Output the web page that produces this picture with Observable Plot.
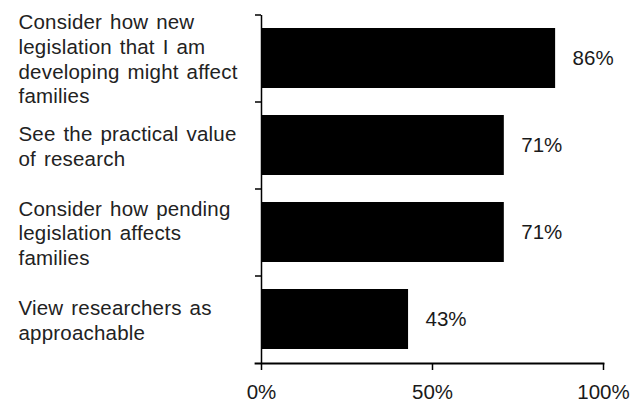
<!DOCTYPE html>
<html>
<head>
<meta charset="utf-8">
<script src="https://cdn.jsdelivr.net/npm/d3@7"></script>
<script src="https://cdn.jsdelivr.net/npm/@observablehq/plot@0.6"></script>
<style>
  html, body { margin: 0; padding: 0; background: white; }
  .catlab text { letter-spacing: 0.2px; word-spacing: 2px; }
</style>
</head>
<body>
<div id="chart"></div>
<script>
const categories = ["new", "practical", "pending", "approachable"];
const categoryLabels = [
  "Consider how new\nlegislation that I am\ndeveloping might affect\nfamilies",
  "See the practical value\nof research",
  "Consider how pending\nlegislation affects\nfamilies",
  "View researchers as\napproachable"
];
const values = [86, 71, 71, 43];
const xTicks = [0, 50, 100];

const data = categories.map((c, i) => ({category: c, label: categoryLabels[i], value: values[i]}));

const W = 644, H = 403, mL = 261, mR = 41, mT = 15, mB = 40;
const step = (H - mT - mB) / categories.length;

const chart = Plot.plot({
  width: W,
  height: H,
  marginLeft: mL,
  marginRight: mR,
  marginTop: mT,
  marginBottom: mB,
  style: {fontFamily: "'Liberation Sans', Arial, sans-serif", fontSize: "20.5px", color: "black", background: "white"},
  x: {domain: [0, 100]},
  y: {domain: categories, paddingInner: 0.31, paddingOuter: 0.155},
  marks: [
    Plot.barX(data, {x: "value", y: "category", fill: "black"}),
    Plot.ruleX([0], {stroke: "black", strokeWidth: 1.5}),
    Plot.frame({anchor: "bottom", insetLeft: -6, stroke: "black", strokeWidth: 1.8}),
    Plot.axisX({ticks: xTicks, tickFormat: d => d + "%", tickSize: 7, tickPadding: 14, label: null, strokeWidth: 1.5, fill: "#1a1a1a"}),
    Plot.axisY({tickSize: 6, tickFormat: () => "", dy: -step / 2, label: null, strokeWidth: 1.5}),
    Plot.text(data, {y: "category", text: "label", frameAnchor: "left", textAnchor: "start", dx: 18 - mL, lineHeight: 1.2, fill: "#222", className: "catlab"}),
    Plot.text(data, {x: "value", y: "category", text: d => d.value + "%", textAnchor: "start", dx: 17, fill: "#1a1a1a"})
  ]
});
document.getElementById("chart").appendChild(chart);
</script>
</body>
</html>
